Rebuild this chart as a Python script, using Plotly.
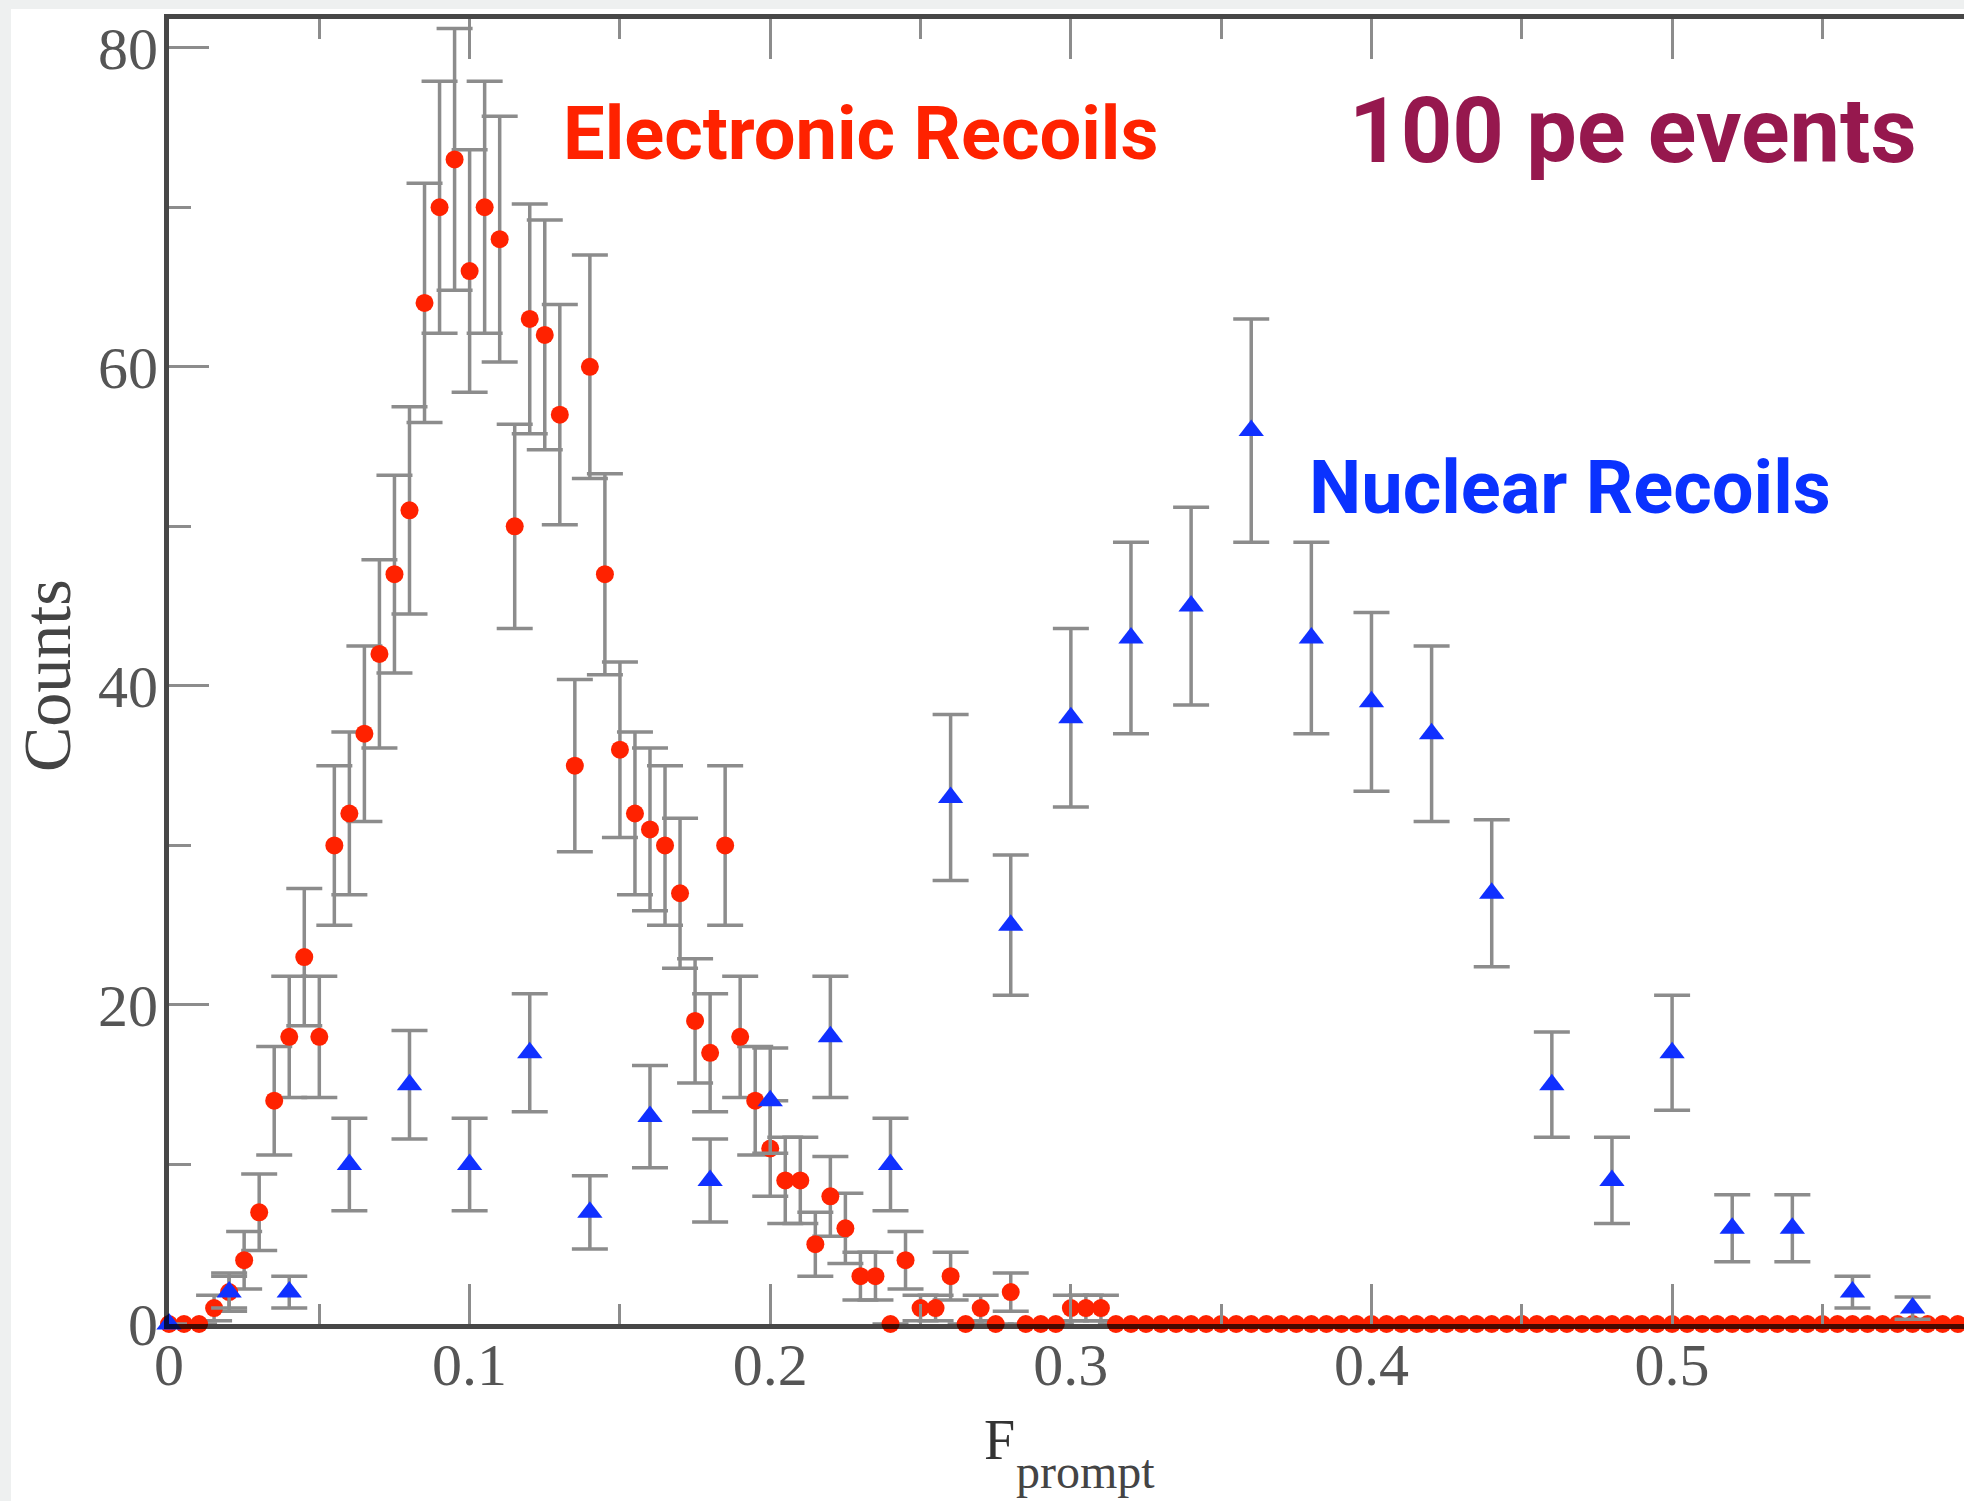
import numpy as np
import plotly.graph_objects as go

# ---- histogram data: prompt-fraction distributions for 100 pe events ----
# Electronic recoils, bins of width 0.005 starting at 0
er_bin_width = 0.005
er_counts = [
    0, 0, 0, 1, 2, 4, 7, 14, 18, 23,
    18, 30, 32, 37, 42, 47, 51, 64, 70, 73,
    66, 70, 68, 50, 63, 62, 57, 35, 60, 47,
    36, 32, 31, 30, 27, 19, 17, 30, 18, 14,
    11, 9, 9, 5, 8, 6, 3, 3, 0, 4,
    1, 1, 3, 0, 1, 0, 2, 0, 0, 0,
    1, 1, 1,
] + [0] * 58
er_errors = [
    0, 0, 0, 0.8, 1.2, 1.8, 2.4, 3.4, 3.8, 4.3,
    3.8, 5.0, 5.1, 5.5, 5.9, 6.2, 6.5, 7.5, 7.9, 8.2,
    7.6, 7.9, 7.7, 6.4, 7.2, 7.2, 6.9, 5.4, 7.0, 6.3,
    5.5, 5.1, 5.1, 5.0, 4.7, 3.9, 3.7, 5.0, 3.8, 3.4,
    3.0, 2.7, 2.7, 2.0, 2.5, 2.2, 1.5, 1.5, 0, 1.8,
    0.8, 0.8, 1.5, 0, 0.8, 0, 1.2, 0, 0, 0,
    0.8, 0.8, 0.8,
] + [0] * 58

# Nuclear recoils, bins of width 0.02 starting at 0
nr_bin_width = 0.02
nr_counts = [
    0, 2, 2, 10, 15, 10, 17, 7, 13, 9,
    14, 18, 10, 33, 25, 38, 43, 45, 56, 43,
    39, 37, 27, 15, 9, 17, 6, 6, 2, 1,
]
nr_errors = [
    0, 1.0, 1.0, 2.9, 3.4, 2.9, 3.7, 2.3, 3.2, 2.6,
    3.3, 3.8, 2.9, 5.2, 4.4, 5.6, 6.0, 6.2, 7.0, 6.0,
    5.6, 5.5, 4.6, 3.3, 2.7, 3.6, 2.1, 2.1, 1.0, 0.7,
]

er_x = np.round(np.arange(len(er_counts)) * er_bin_width, 4)
nr_x = np.round(np.arange(len(nr_counts)) * nr_bin_width, 4)

# ---- page geometry ----
W, H = 1964, 1501
M_L, M_R, M_T, M_B = 169, 0, 19, 177
plot_w = W - M_L - M_R
plot_h = H - M_T - M_B

X_MAX = 0.5971
Y_MAX = 81.8


def px_to_paper(px, py):
    return (px - M_L) / plot_w, (H - M_B - py) / plot_h


ERRBAR = dict(type="data", symmetric=True, color="#8c8c8c", thickness=3.5, width=18)
AXIS_LINE = "rgba(0,0,0,0.72)"
TICK_COL = "#8c8c8c"
TICK_FONT = dict(family="Liberation Serif, Times New Roman, serif", size=60, color="#555555")

fig = go.Figure()

fig.add_trace(go.Scatter(
    x=er_x, y=er_counts, mode="markers", name="Electronic Recoils",
    marker=dict(symbol="circle", size=18, color="#ff2200", line=dict(width=0)),
    error_y=dict(array=er_errors, **ERRBAR),
    cliponaxis=False, showlegend=False,
))
fig.add_trace(go.Scatter(
    x=nr_x, y=nr_counts, mode="markers", name="Nuclear Recoils",
    marker=dict(symbol="triangle-up", size=22, color="#1030ff", line=dict(width=0)),
    error_y=dict(array=nr_errors, **ERRBAR),
    cliponaxis=False, showlegend=False,
))

fig.update_layout(
    width=W, height=H,
    margin=dict(l=M_L, r=M_R, t=M_T, b=M_B, pad=0),
    paper_bgcolor="#eef0f0",
    plot_bgcolor="rgba(0,0,0,0)",
    xaxis=dict(
        range=[0, X_MAX], tick0=0, dtick=0.1,
        showline=True, linecolor=AXIS_LINE, linewidth=5, mirror="ticks",
        ticks="inside", ticklen=40, tickwidth=3, tickcolor=TICK_COL,
        minor=dict(ticks="inside", dtick=0.05, ticklen=20, tickwidth=3, tickcolor=TICK_COL),
        showgrid=False, zeroline=False, tickfont=TICK_FONT, ticklabelstandoff=-16,
    ),
    yaxis=dict(
        range=[0, Y_MAX], tick0=0, dtick=20,
        showline=True, linecolor=AXIS_LINE, linewidth=5,
        ticks="inside", ticklen=40, tickwidth=3, tickcolor=TICK_COL,
        minor=dict(ticks="inside", dtick=10, ticklen=22, tickwidth=3, tickcolor=TICK_COL),
        showgrid=False, zeroline=False, tickfont=TICK_FONT, ticklabelstandoff=-6,
    ),
    # inward ticks along the right-hand side (its frame line lies just past the page edge)
    yaxis2=dict(
        overlaying="y", side="right", anchor="x",
        range=[0, Y_MAX], tick0=0, dtick=20,
        showline=False, ticks="inside", ticklen=31, tickwidth=3, tickcolor=TICK_COL,
        minor=dict(ticks="inside", dtick=10, ticklen=13, tickwidth=3, tickcolor=TICK_COL),
        showticklabels=False, showgrid=False, zeroline=False,
    ),
)

# white page area inside the light slide border
bx0, by1 = px_to_paper(11, 9)
fig.add_shape(type="rect", xref="paper", yref="paper",
              x0=bx0, x1=1.05, y0=-0.2, y1=by1,
              fillcolor="white", line=dict(width=0), layer="below")

HAND = "Roboto, Lato, sans-serif"

labels = [
    # text, centre px, size, colour
    ("Electronic Recoils", (860, 133), 74, "#ff2200"),
    ("100 pe events", (1633, 131), 90, "#96184e"),
    ("Nuclear Recoils", (1570, 487), 74, "#0a32ff"),
]
for text, (px, py), size, colour in labels:
    ax_, ay_ = px_to_paper(px, py)
    fig.add_annotation(text=text, xref="paper", yref="paper", x=ax_, y=ay_,
                       xanchor="center", yanchor="middle", showarrow=False,
                       font=dict(family=HAND, size=size, color=colour, weight="bold"))

# axis titles
SERIF = "Liberation Serif, Times New Roman, serif"
cx, cy = px_to_paper(47, 676)
fig.add_annotation(text="Counts", xref="paper", yref="paper", x=cx, y=cy,
                   textangle=-90, showarrow=False, xanchor="center", yanchor="middle",
                   font=dict(family=SERIF, size=68, color="#444444"))
fx, fy = px_to_paper(999, 1440)
fig.add_annotation(text="F", xref="paper", yref="paper", x=fx, y=fy,
                   showarrow=False, xanchor="center", yanchor="middle",
                   font=dict(family=SERIF, size=56, color="#333333"))
sx, sy = px_to_paper(1085, 1471)
fig.add_annotation(text="prompt", xref="paper", yref="paper", x=sx, y=sy,
                   showarrow=False, xanchor="center", yanchor="middle",
                   font=dict(family=SERIF, size=48, color="#444444"))

fig.write_html("out.html")
